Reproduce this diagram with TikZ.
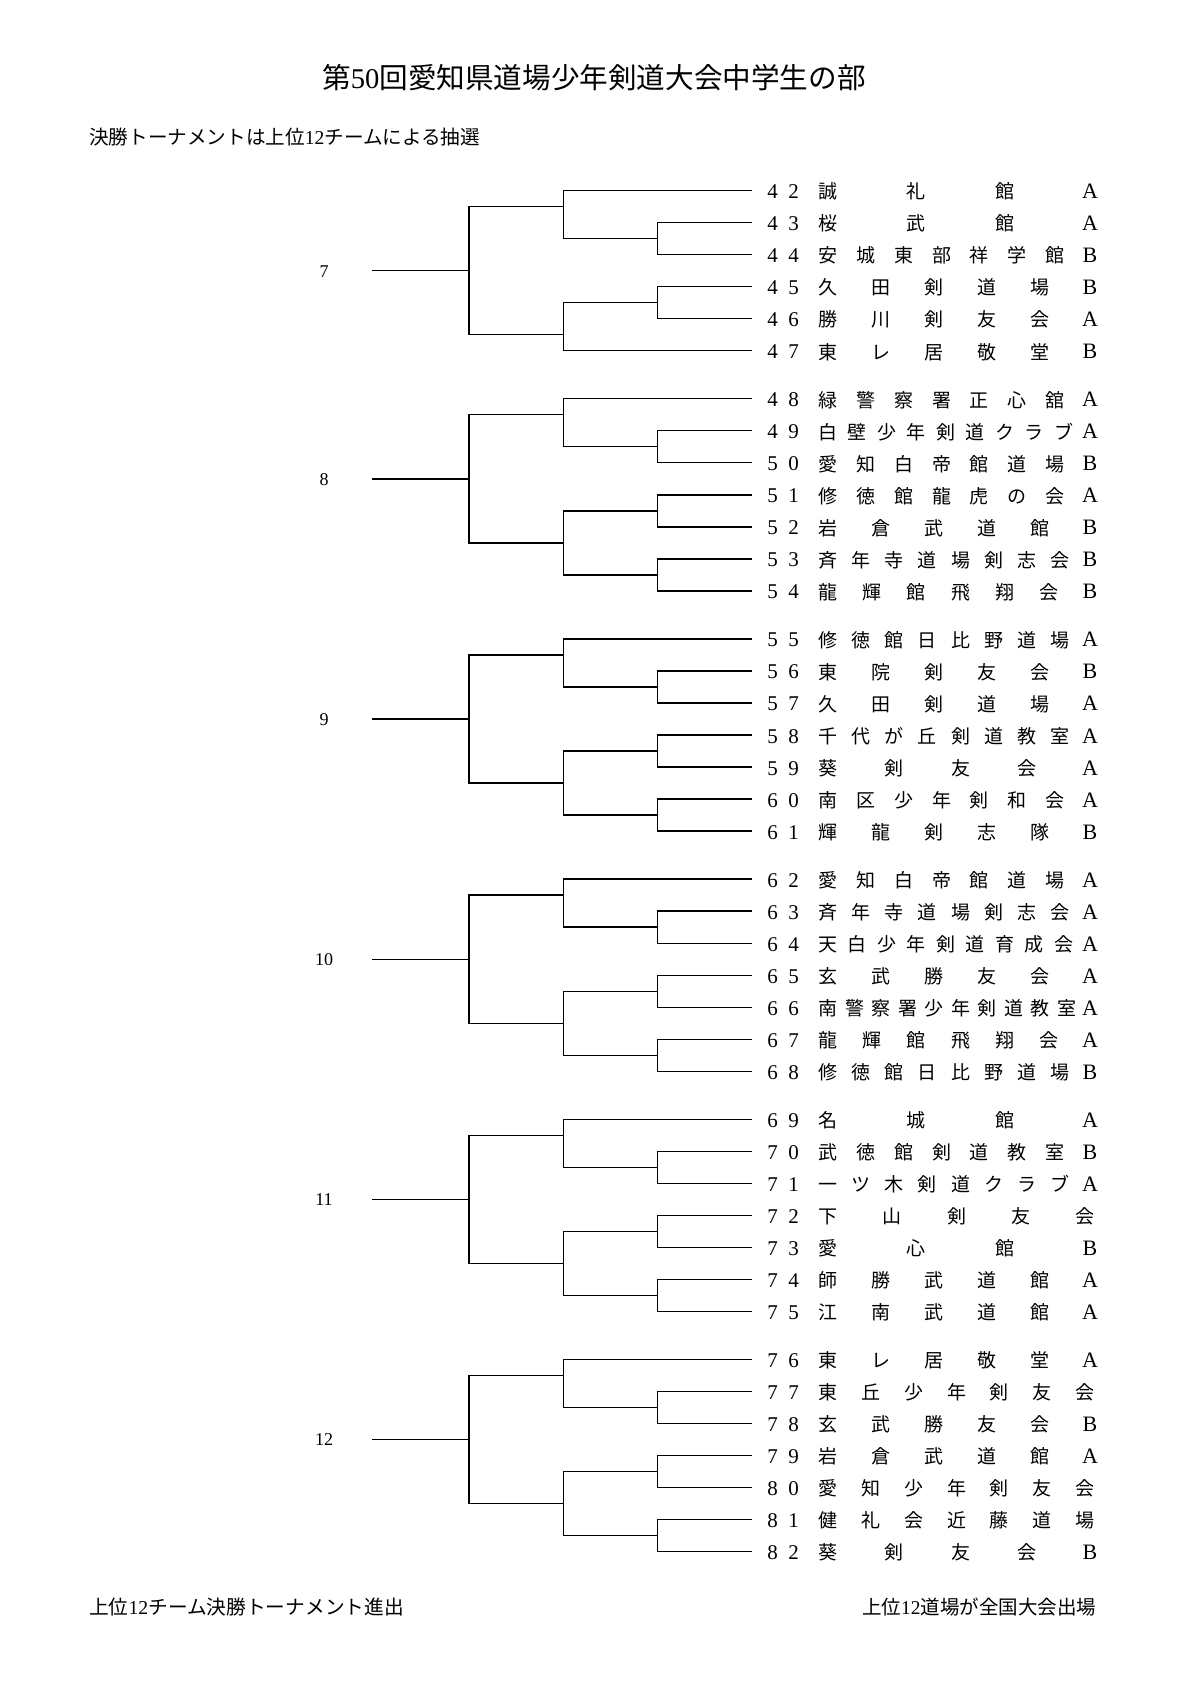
\documentclass[tikz,border=0pt]{standalone}
\usepackage{fontspec}
\setmainfont{Liberation Serif}
\newfontfamily\jp{Noto Sans CJK JP}
\newcommand\twodig[2]{#1\hspace{10.5pt}#2}
\newcommand\sety[1]{\pgfmathparse{(#1<48) ? (190.7+32.02*(#1-42)) : (398.8+240.15*floor((#1-48)/7)+32.02*mod(#1-48,7))}\let\yy\pgfmathresult}
\newcommand\team[3]{%
  \sety{#1}%
  \coordinate (t#1) at (752,\yy);
  \node[num] (n#1) at (783,{\yy+8}) {\twodig#1};
  \foreach \c [count=\k] in {#2} {\xdef\nch{\k}}%
  \pgfmathsetmacro\pp{265/\nch}%
  \foreach \c [count=\k] in {#2} {\node[nm] (c#1-\k) at ({828+(\k-1)*\pp},{\yy+8.2}) {\c};}%
  \node[lt] (l#1) at (1090,{\yy+8}) {#3};
}
\newcommand\teamx[2]{%
  \sety{#1}%
  \coordinate (t#1) at (752,\yy);
  \node[num] (n#1) at (783,{\yy+8}) {\twodig#1};
  \foreach \c [count=\k] in {#2} {\xdef\nch{\k}}%
  \pgfmathsetmacro\pp{257/(\nch-1)}%
  \foreach \c [count=\k] in {#2} {\node[nm] (c#1-\k) at ({828+(\k-1)*\pp},{\yy+8.2}) {\c};}%
}
\newcommand\grpsix[3]{%
  \pgfmathtruncatemacro\qqB{#2+1}\pgfmathtruncatemacro\qqC{#2+2}%
  \pgfmathtruncatemacro\qqD{#2+3}\pgfmathtruncatemacro\qqE{#2+4}%
  \pgfmathtruncatemacro\qqF{#2+5}%
  \coordinate (jA#1) at (657.7,{#3+32.02*1.5});
  \coordinate (jT#1) at (563.3,{#3+32.02*0.5});
  \coordinate (jB#1) at (657.7,{#3+32.02*3.5});
  \coordinate (jU#1) at (563.3,{#3+32.02*4.5});
  \coordinate (jR#1) at (469,{#3+32.02*2.5});
  \coordinate (s#1) at (372,{#3+32.02*2.5});
  \node[grp] (g#1) at (324,{#3+32.02*2.5+6.5}) {#1};
  \draw[br] (t\qqB) -| (jA#1) |- (t\qqC);
  \draw[br] (t#2) -| (jT#1) |- (jA#1);
  \draw[br] (t\qqD) -| (jB#1) |- (t\qqE);
  \draw[br] (jB#1) -| (jU#1) |- (t\qqF);
  \draw[br] (jT#1) -| (jR#1) |- (jU#1);
  \draw[br] (s#1) -- (jR#1);
}
\newcommand\grpseven[3]{%
  \pgfmathtruncatemacro\qqB{#2+1}\pgfmathtruncatemacro\qqC{#2+2}%
  \pgfmathtruncatemacro\qqD{#2+3}\pgfmathtruncatemacro\qqE{#2+4}%
  \pgfmathtruncatemacro\qqF{#2+5}\pgfmathtruncatemacro\qqG{#2+6}%
  \coordinate (jA#1) at (657.7,{#3+32.02*1.5});
  \coordinate (jT#1) at (563.3,{#3+32.02*0.5});
  \coordinate (jB#1) at (657.7,{#3+32.02*3.5});
  \coordinate (jC#1) at (657.7,{#3+32.02*5.5});
  \coordinate (jU#1) at (563.3,{#3+32.02*4.5});
  \coordinate (jR#1) at (469,{#3+32.02*2.5});
  \coordinate (s#1) at (372,{#3+32.02*2.5});
  \node[grp] (g#1) at (324,{#3+32.02*2.5+6.5}) {#1};
  \draw[br] (t\qqB) -| (jA#1) |- (t\qqC);
  \draw[br] (t#2) -| (jT#1) |- (jA#1);
  \draw[br] (t\qqD) -| (jB#1) |- (t\qqE);
  \draw[br] (t\qqF) -| (jC#1) |- (t\qqG);
  \draw[br] (jB#1) -| (jU#1) |- (jC#1);
  \draw[br] (jT#1) -| (jR#1) |- (jU#1);
  \draw[br] (s#1) -- (jR#1);
}
\begin{document}
\begin{tikzpicture}[x=1pt,y=-1pt,
  num/.style={font=\fontsize{21}{21}\selectfont, anchor=base, inner sep=0pt},
  nm/.style={font=\jp\fontsize{19}{19}\selectfont, anchor=base, inner sep=0pt},
  lt/.style={font=\fontsize{22}{22}\selectfont, anchor=base, inner sep=0pt},
  grp/.style={font=\fontsize{18}{18}\selectfont, anchor=base, inner sep=0pt},
  hd/.style={anchor=base west, inner sep=0pt},
  br/.style={line width=1.3pt, black}]
\fill[white] (0,0) rectangle (1190,1683);
\useasboundingbox (0,0) rectangle (1190,1683);
\node[anchor=base, inner sep=0pt, font=\fontsize{28.6}{28.6}\selectfont] (title) at (594,88.8) {{\jp 第}50{\jp 回愛知県道場少年剣道大会中学生の部}};
\node[hd, font=\fontsize{19.6}{19.6}\selectfont] (sub) at (89,144.4) {{\jp 決勝トーナメントは上位}12{\jp チームによる抽選}};
\node[hd, font=\fontsize{19.7}{19.7}\selectfont] (foot1) at (89,1614.5) {{\jp 上位}12{\jp チーム決勝トーナメント進出}};
\node[hd, font=\fontsize{19.5}{19.5}\selectfont] (foot2) at (862,1614.5) {{\jp 上位}12{\jp 道場が全国大会出場}};
\team{42}{誠,礼,館}{A}
\team{43}{桜,武,館}{A}
\team{44}{安,城,東,部,祥,学,館}{B}
\team{45}{久,田,剣,道,場}{B}
\team{46}{勝,川,剣,友,会}{A}
\team{47}{東,レ,居,敬,堂}{B}
\team{48}{緑,警,察,署,正,心,舘}{A}
\team{49}{白,壁,少,年,剣,道,ク,ラ,ブ}{A}
\team{50}{愛,知,白,帝,館,道,場}{B}
\team{51}{修,徳,館,龍,虎,の,会}{A}
\team{52}{岩,倉,武,道,館}{B}
\team{53}{斉,年,寺,道,場,剣,志,会}{B}
\team{54}{龍,輝,館,飛,翔,会}{B}
\team{55}{修,徳,館,日,比,野,道,場}{A}
\team{56}{東,院,剣,友,会}{B}
\team{57}{久,田,剣,道,場}{A}
\team{58}{千,代,が,丘,剣,道,教,室}{A}
\team{59}{葵,剣,友,会}{A}
\team{60}{南,区,少,年,剣,和,会}{A}
\team{61}{輝,龍,剣,志,隊}{B}
\team{62}{愛,知,白,帝,館,道,場}{A}
\team{63}{斉,年,寺,道,場,剣,志,会}{A}
\team{64}{天,白,少,年,剣,道,育,成,会}{A}
\team{65}{玄,武,勝,友,会}{A}
\team{66}{南,警,察,署,少,年,剣,道,教,室}{A}
\team{67}{龍,輝,館,飛,翔,会}{A}
\team{68}{修,徳,館,日,比,野,道,場}{B}
\team{69}{名,城,館}{A}
\team{70}{武,徳,館,剣,道,教,室}{B}
\team{71}{一,ツ,木,剣,道,ク,ラ,ブ}{A}
\teamx{72}{下,山,剣,友,会}
\team{73}{愛,心,館}{B}
\team{74}{師,勝,武,道,館}{A}
\team{75}{江,南,武,道,館}{A}
\team{76}{東,レ,居,敬,堂}{A}
\teamx{77}{東,丘,少,年,剣,友,会}
\team{78}{玄,武,勝,友,会}{B}
\team{79}{岩,倉,武,道,館}{A}
\teamx{80}{愛,知,少,年,剣,友,会}
\teamx{81}{健,礼,会,近,藤,道,場}
\team{82}{葵,剣,友,会}{B}
\grpsix{7}{42}{190.7}
\grpseven{8}{48}{398.8}
\grpseven{9}{55}{638.95}
\grpseven{10}{62}{879.1}
\grpseven{11}{69}{1119.25}
\grpseven{12}{76}{1359.4}
\end{tikzpicture}
\end{document}
